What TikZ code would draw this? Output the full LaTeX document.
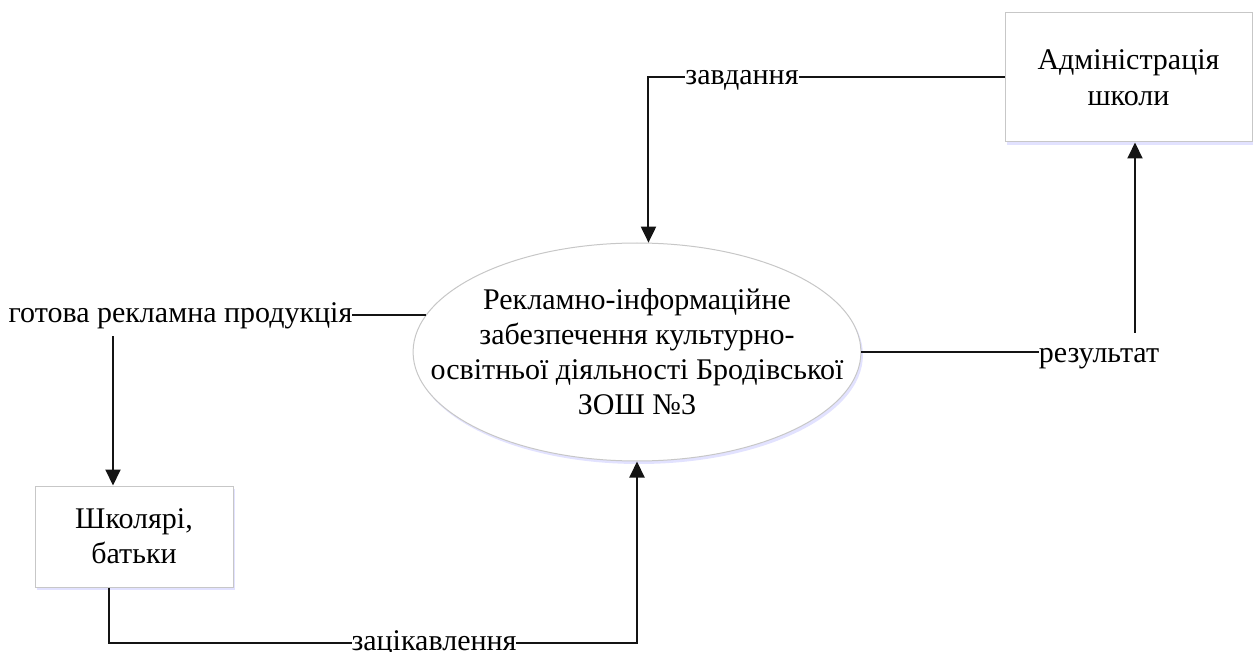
\documentclass[tikz,border=0pt]{standalone}
\usepackage{fontspec}
\setmainfont{Liberation Serif}
\usetikzlibrary{arrows.meta,positioning,shapes.geometric,shadows}

\tikzset{
	entity/.style={draw=black!22, line width=0.5pt, fill=white, align=center, inner sep=0pt,
		drop shadow={shadow xshift=1pt, shadow yshift=-1.5pt, fill=blue!25, opacity=0.45}},
	process/.style={entity, ellipse, minimum width=220pt, minimum height=109pt, inner xsep=-24pt},
	flow/.style={line width=1pt, draw=black!92},
	flowlabel/.style={fill=white, inner sep=0pt, anchor=base}
}

\begin{document}
\begin{tikzpicture}[x=0.5pt, y=-0.5pt, >={Triangle[length=8pt,width=7.5pt]},
	font=\fontsize{15}{17.5}\selectfont]
	
	\useasboundingbox (0,0) rectangle (1253,652);
	
	% --- process and external entities ---
	\node[process] (proc) at (637,352) {Рекламно-інформаційне\\забезпечення культурно-\\освітньої діяльності Бродівської\\ЗОШ №3};
	\node[entity, minimum width=123.5pt, minimum height=64.5pt] (admin) at (1128.5,77.5) {Адміністрація\\[0.5pt]школи};
	\node[entity, minimum width=99pt, minimum height=50.5pt] (pupils) at (134,536.5) {Школярі,\\батьки};
	
	% --- data flows ---
	\draw[flow,->] (admin.west) -| (proc.84);
	\draw[flow,->] (proc.east) -| ([xshift=3.25pt]admin.south);
	\draw[flow,->] (proc.170) -| ([xshift=-10.5pt]pupils.north);
	\draw[flow,->] ([xshift=-12.5pt]pupils.south) -- ++(0,55) -| (proc.south);
	
	% --- flow labels (white boxes cut the lines) ---
	\node[flowlabel] (task) at (742,85) {завдання};
	\node[flowlabel, text height=14.5pt] (result) at (1099,362) {результат};
	\node[flowlabel, text depth=7pt] (ads) at (180.5,322) {готова рекламна продукція};
	\node[flowlabel] (interest) at (434,650.5) {зацікавлення};
	
\end{tikzpicture}
\end{document}
